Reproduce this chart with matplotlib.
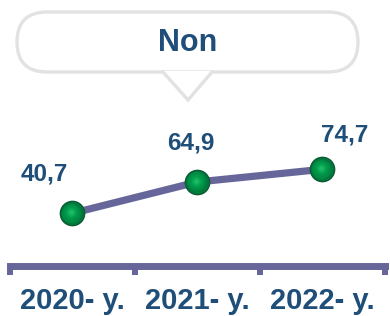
import matplotlib
matplotlib.use("Agg")
import matplotlib.pyplot as plt
from matplotlib.patches import FancyBboxPatch, Polygon
from matplotlib.transforms import ScaledTranslation

categories = ["2020- y.", "2021- y.", "2022- y."]
values = [40.7, 64.9, 74.7]
value_labels = ["40,7", "64,9", "74,7"]
title_text = "Non"

# label baseline offsets (points) relative to each marker
label_offsets = [(-19.7, 23.3), (-4.3, 23.5), (16.6, 19.7)]

TXT = "#1f4e79"
LINE = "#66669a"
plt.rcParams['font.family'] = ['Liberation Sans', 'DejaVu Sans']

W, H = 390, 316
fig = plt.figure(figsize=(W / 100, H / 100), dpi=100)
fig.patch.set_facecolor("white")

# chart axes
left_px, right_px = 9.5, 384.5
bottom_px, top_px = 266, 100
ax = fig.add_axes([left_px / W, (H - bottom_px) / H, (right_px - left_px) / W, (bottom_px - top_px) / H])
ax.set_facecolor("none")
ax.set_xlim(-0.5, 2.5)
ax.set_ylim(0, (bottom_px - top_px) / 1.294)

x = list(range(len(categories)))
ax.plot(x, values, color=LINE, lw=5.2, solid_capstyle='round', zorder=2)

# sphere-like markers
layers = [(18.5, "#0b5a33", (0, 0)), (16.5, "#007a3c", (0, 0)), (13.5, "#008c44", (-0.4, 0.4)),
          (10, "#009a4a", (-0.7, 0.7)), (6.5, "#07aa55", (-0.9, 0.9)), (3.5, "#20b865", (-1.0, 1.0))]
for ms, col, (dx, dy) in layers:
    tr = ax.transData + ScaledTranslation(dx / 72, dy / 72, fig.dpi_scale_trans)
    ax.plot(x, values, 'o', ms=ms, color=col, mec='none', transform=tr, zorder=3)

for xi, v, lab, (dx, dy) in zip(x, values, value_labels, label_offsets):
    ax.annotate(lab, (xi, v), xytext=(dx, dy), textcoords='offset points',
                ha='center', va='baseline', fontsize=17.5, fontweight='bold', color=TXT)

for s in ['top', 'right', 'left']:
    ax.spines[s].set_visible(False)
ax.spines['bottom'].set_color(LINE)
ax.spines['bottom'].set_linewidth(5)
ax.spines['bottom'].set_capstyle('projecting')
ax.set_yticks([])
ax.set_xticks([-0.5, 0.5, 1.5, 2.5])
ax.set_xticklabels([])
ax.tick_params(axis='x', which='major', length=6.5, width=4.3, color=LINE, direction='out')
ax.set_xticks(x, categories, minor=True)
ax.tick_params(axis='x', which='minor', length=0, pad=15, labelsize=21, labelcolor=TXT)
for t in ax.get_xticklabels(minor=True):
    t.set_fontweight('bold')

# callout overlay
ov = fig.add_axes([0, 0, 1, 1], zorder=5)
ov.set_xlim(0, W)
ov.set_ylim(H, 0)
ov.axis('off')
ov.patch.set_alpha(0)
box = FancyBboxPatch((17, 12), 341, 60, boxstyle="round,pad=0,rounding_size=30",
                     fc="white", ec="#e2e2e2", lw=2.4)
ov.add_patch(box)
ov.add_patch(Polygon([(163, 71), (188, 100), (212, 71)], closed=True, fc="white", ec="none"))
ov.plot([163, 188, 212], [72, 100, 72], color="#e2e2e2", lw=2.4, solid_joinstyle='miter')
ov.text(188, 43, title_text, ha='center', va='center', fontsize=22, fontweight='bold', color=TXT)

fig.savefig("out.png", dpi=100, facecolor="white")
